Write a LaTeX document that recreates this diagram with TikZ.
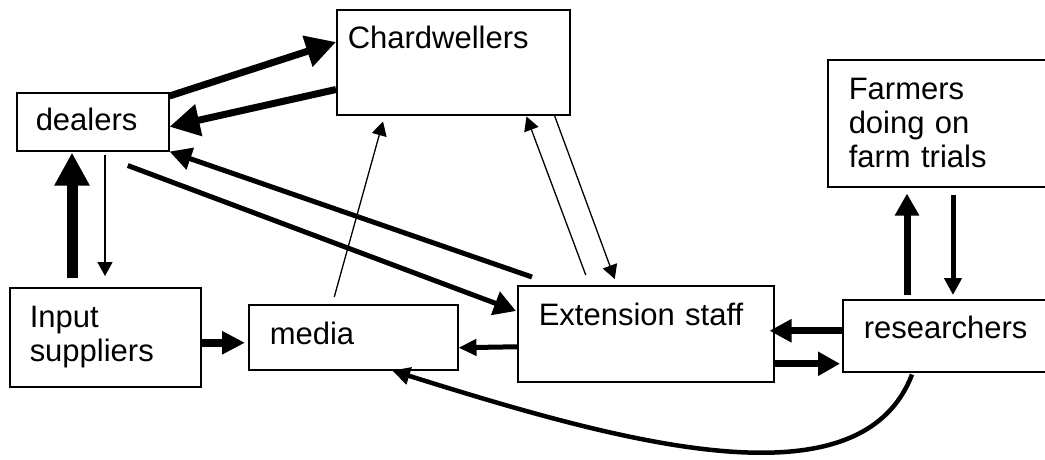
\documentclass[tikz,border=0pt]{standalone}
\usepackage{fontspec}
\setmainfont{Liberation Sans}
\usetikzlibrary{arrows.meta,calc}

\begin{document}
\begin{tikzpicture}[
    x=1pt, y=-1pt,
    font=\fontsize{31}{34}\selectfont,
    box/.style={
        draw,
        line width=1.5pt,
        anchor=north west,
        align=left,
        inner ysep=0pt,
        inner xsep=21pt
    },
    link/.style={line width=1.3pt, -{Triangle[length=14pt,width=15pt]}},
    flow/.style={line width=5pt, -{Triangle[length=22pt,width=23pt]}},
    bigflow/.style={line width=7pt, -{Triangle[length=30pt,width=31pt]}}
]
\useasboundingbox (0,0) rectangle (1045,459);

% --- Boxes ---
\node[box, inner xsep=19pt, text width=114pt, text height=38pt, text depth=20pt] (dealers) at (16,92) {dealers};
\node[box, inner xsep=11pt, text width=211pt, text height=39pt, text depth=66pt] (chard) at (336,9) {Chardwellers};
\node[box, text width=183pt, minimum height=127pt] (farmers) at (827,59) {Farmers\\doing on\\farm trials};
\node[box, inner xsep=20pt, text width=151pt, minimum height=99pt] (input) at (9,287) {Input\\suppliers};
\node[box, text width=167pt, text height=40pt, text depth=25pt] (media) at (248,304) {media};
\node[box, text width=214pt, text height=40pt, text depth=56pt] (ext) at (517,285) {Extension staff};
\node[box, text width=168pt, text height=39pt, text depth=33pt] (res) at (842,299) {researchers};

% --- Dealers and Chardwellers ---
\draw[bigflow] ($(dealers.north east)+(0,4)$) -- ($(chard.north west)+(0,33)$);
\draw[bigflow] ($(chard.south west)+(0,-26)$) -- ($(dealers.east)+(0,5)$);

% --- Dealers and extension staff ---
\draw[flow, -{Triangle[length=22pt,width=22pt]}] ($(ext.north west)+(15,-8)$) -- (dealers.south east);
\draw[flow, -{Triangle[length=22pt,width=24pt]}] ($(dealers.south)+(35,14)$) -- ($(ext.north west)+(-1,26)$);

% --- Into Chardwellers ---
\draw[link] ($(media.north)+(-19,-7)$) -- ($(chard.south west)+(47,6)$);
\draw[link] ($(ext.north)+(-60,-10)$) -- ($(chard.south east)+(-44,1)$);
\draw[link] ($(chard.south east)+(-16,0)$) -- ($(ext.north)+(-31,-6)$);

% --- Input suppliers ---
\draw[line width=11pt, -{Triangle[length=33pt,width=33pt]}] ($(input.north west)+(63,-9)$) -- ($(dealers.south west)+(56,1)$);
\draw[link] ($(dealers.south west)+(89,3)$) -- ($(input.north west)+(96,-11)$);
\draw[bigflow, line width=8pt, -{Triangle[length=23pt,width=22pt]}] ($(input.east)+(0,5.5)$) -- ($(media.west)+(-3,5.5)$);

% --- Media ---
\draw[flow, -{Triangle[length=18pt,width=16pt]}] ($(ext.west)+(0,13)$) -- ($(media.east)+(0,10.5)$);

% --- Researchers ---
\draw[bigflow, -{Triangle[length=22pt,width=22pt]}] ($(res.west)+(0,-5)$) -- ($(ext.east)+(-5,-3)$);
\draw[bigflow, -{Triangle[length=22pt,width=23pt]}] ($(ext.east)+(0,30)$) -- ($(res.west)+(-2,28)$);
\draw[bigflow, -{Triangle[length=22pt,width=23pt]}] ($(res.north west)+(65,-4)$) -- ($(farmers.south west)+(80,6)$);
\draw[flow, -{Triangle[length=17pt,width=17pt]}] ($(farmers.south west)+(126,7)$) -- ($(res.north west)+(111,-4)$);
\draw[flow, line width=4.5pt, -{Triangle[length=18pt,width=17pt]}] ($(res.south west)+(70,2)$)
    .. controls (860,510) and (620,442) .. ($(media.south west)+(144,0)$);

\end{tikzpicture}
\end{document}
